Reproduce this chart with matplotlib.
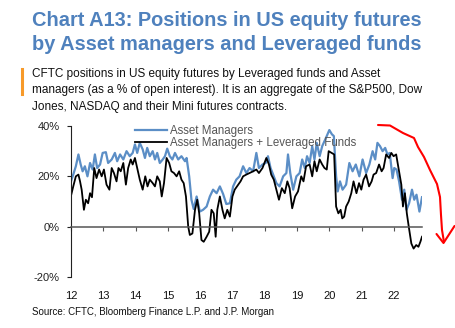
import matplotlib.pyplot as plt
from matplotlib.lines import Line2D

plt.rcParams['font.family'] = ['Liberation Sans', 'DejaVu Sans']

# weekly series read at ~monthly resolution, x in decimal years, y in % of OI
am_years = [2012.00, 2012.07, 2012.15, 2012.23, 2012.30, 2012.36, 2012.43, 2012.51, 2012.59, 2012.67,
            2012.74, 2012.81, 2012.90, 2012.98, 2013.08, 2013.15, 2013.26, 2013.36, 2013.43, 2013.52,
            2013.62, 2013.72, 2013.82, 2013.91, 2013.98, 2014.05, 2014.13, 2014.22, 2014.29, 2014.36,
            2014.44, 2014.53, 2014.60, 2014.67, 2014.75, 2014.84, 2014.91, 2014.98, 2015.06, 2015.14,
            2015.22, 2015.32, 2015.42, 2015.53, 2015.58, 2015.66, 2015.73, 2015.80, 2015.89, 2015.99,
            2016.09, 2016.20, 2016.30, 2016.40, 2016.51, 2016.61, 2016.71, 2016.81, 2016.92, 2017.02,
            2017.12, 2017.22, 2017.33, 2017.43, 2017.53, 2017.64, 2017.74, 2017.82, 2017.93, 2018.03,
            2018.10, 2018.18, 2018.26, 2018.36, 2018.46, 2018.57, 2018.67, 2018.72, 2018.79, 2018.88,
            2018.98, 2019.08, 2019.16, 2019.24, 2019.31, 2019.39, 2019.47, 2019.54, 2019.61, 2019.70,
            2019.78, 2019.85, 2019.92, 2020.00, 2020.08, 2020.14, 2020.21, 2020.26, 2020.33, 2020.41,
            2020.52, 2020.62, 2020.72, 2020.82, 2020.93, 2021.03, 2021.14, 2021.24, 2021.34, 2021.42,
            2021.49, 2021.57, 2021.65, 2021.73, 2021.80, 2021.87, 2021.96, 2022.01, 2022.08, 2022.16,
            2022.25, 2022.32, 2022.39, 2022.47, 2022.56, 2022.63, 2022.70, 2022.79, 2022.87]
am_values = [18, 20.7, 24, 28.7, 24.7, 22, 24, 20, 25.3, 22.7,
             28.7, 23.3, 24.7, 29.3, 29.6, 25.3, 26.7, 29.3, 26, 28.7,
             26.7, 30, 28, 29.3, 32.7, 29.3, 33.3, 30.7, 27.3, 31.3,
             28, 30, 26.7, 29.3, 25.3, 26.7, 28, 31, 28, 26.7,
             29.3, 26.7, 28, 26, 27.3, 20, 10.7, 7, 12, 6,
             6.7, 8, 12, 14.7, 13.3, 16, 13, 9, 9.3, 16,
             18.7, 20, 24, 21.3, 23.3, 22, 29.3, 23.3, 24.7, 25.3,
             28, 23.3, 20.7, 17.3, 16, 20, 21.3, 28.7, 21.3, 14.7,
             20, 21.3, 26.7, 23.3, 28, 25.3, 32, 26.7, 33.3, 28,
             32, 34, 36, 38.4, 36.7, 36, 20, 14, 18, 14.7,
             16.7, 25.3, 22, 24.7, 20, 26.7, 21.3, 24.7, 30, 26.7,
             33.3, 32, 30, 31.3, 28.7, 29.3, 19.3, 23.3, 22.7, 18,
             10.7, 14.7, 6.7, 9.3, 14.7, 10.7, 12.7, 6, 11.7]

lev_years = [2012.00, 2012.07, 2012.15, 2012.23, 2012.28, 2012.33, 2012.40, 2012.46, 2012.53, 2012.59,
             2012.65, 2012.72, 2012.79, 2012.87, 2012.95, 2013.02, 2013.10, 2013.19, 2013.26, 2013.33,
             2013.41, 2013.47, 2013.54, 2013.62, 2013.70, 2013.77, 2013.85, 2013.91, 2013.98, 2014.05,
             2014.13, 2014.22, 2014.30, 2014.37, 2014.44, 2014.53, 2014.60, 2014.67, 2014.75, 2014.81,
             2014.88, 2014.96, 2015.04, 2015.11, 2015.19, 2015.27, 2015.35, 2015.42, 2015.49, 2015.56,
             2015.63, 2015.68, 2015.76, 2015.84, 2015.91, 2015.97, 2016.04, 2016.11, 2016.20, 2016.28,
             2016.35, 2016.42, 2016.48, 2016.53, 2016.61, 2016.69, 2016.76, 2016.84, 2016.92, 2017.00,
             2017.07, 2017.18, 2017.25, 2017.33, 2017.43, 2017.53, 2017.64, 2017.74, 2017.82, 2017.93,
             2018.05, 2018.13, 2018.20, 2018.28, 2018.36, 2018.44, 2018.53, 2018.62, 2018.70, 2018.77,
             2018.85, 2018.94, 2019.03, 2019.13, 2019.20, 2019.28, 2019.39, 2019.47, 2019.54, 2019.61,
             2019.70, 2019.78, 2019.85, 2019.92, 2019.98, 2020.07, 2020.15, 2020.21, 2020.28, 2020.35,
             2020.40, 2020.46, 2020.52, 2020.60, 2020.68, 2020.75, 2020.84, 2020.92, 2020.99, 2021.06,
             2021.14, 2021.23, 2021.31, 2021.37, 2021.45, 2021.54, 2021.62, 2021.68, 2021.76, 2021.85,
             2021.92, 2021.99, 2022.07, 2022.15, 2022.23, 2022.28, 2022.34, 2022.40, 2022.46, 2022.54,
             2022.61, 2022.69, 2022.76, 2022.82, 2022.87]
lev_values = [12.3, 16, 20, 20.7, 18, 14.7, 6.7, 10.7, 9.3, 13.3,
              11.7, 23.3, 19.3, 22.7, 20, 22.7, 16.7, 14.7, 23.3, 21.3,
              18, 23.3, 22, 25.3, 16.7, 23.3, 26.7, 24.7, 27.3, 23.3,
              18.7, 14.7, 20, 16, 18.7, 17.3, 16, 20, 18, 12,
              17.3, 27.3, 25.3, 22, 21.3, 20, 22, 18.7, 17.3, 12,
              0, -3.3, -2.7, 6.7, 10.7, 5.3, -5.3, -6, -4, -2,
              6.7, 5.3, -4, 6.7, 12, 6.7, 3.3, 6.7, 4, 12,
              14.7, 16.7, 18, 20, 20.7, 21.3, 22, 22.7, 21.3, 23.3,
              27.3, 24.7, 20.7, 18.7, 14.7, 10.7, 15.3, 13.3, 18, 15.3,
              7.3, 12, 14, 20, 18, 24, 24.7, 20, 26, 22,
              26.7, 24.7, 23.3, 22.7, 30, 29.3, 28.7, 8, 5.3, 6.7,
              3.3, 4, 8, 10, 13.3, 18, 13.3, 17.3, 14.7, 18.7,
              20.7, 16, 18, 20.7, 21.3, 24.7, 22, 23.3, 28.7, 27.3,
              29.3, 28, 28.7, 22.7, 16.7, 8, 13.3, 5.3, -0, -6.7,
              -8.7, -7.3, -8, -6, -4]

year_ticks = [2012, 2013, 2014, 2015, 2016, 2017, 2018, 2019, 2020, 2021, 2022]
year_labels = ['12', '13', '14', '15', '16', '17', '18', '19', '20', '21', '22']
pct_ticks = [-20, 0, 20, 40]
pct_labels = ['-20%', '0%', '20%', '40%']

W, H = 455, 328
fig = plt.figure(figsize=(W / 100, H / 100), dpi=100)


def fx(px):
    return px / W


def fy(py):
    return 1 - py / H


title_col = '#4f81bd'
fig.text(fx(32), fy(26), 'Chart A13: Positions in US equity futures', color=title_col,
         fontsize=14.4, fontweight='bold', va='baseline')
fig.text(fx(32), fy(50), 'by Asset managers and Leveraged funds', color=title_col,
         fontsize=14.4, fontweight='bold', va='baseline')

sub_lines = ['CFTC positions in US equity futures by Leveraged funds and Asset',
             'managers (as a % of open interest). It is an aggregate of the S&P500, Dow',
             'Jones, NASDAQ and their Mini futures contracts.']
for i, s in enumerate(sub_lines):
    fig.text(fx(32), fy(76.5 + 16.7 * i), s, fontsize=8.5, color='#111111', va='baseline')
fig.add_artist(Line2D([fx(22), fx(22)], [fy(69), fy(94)], color='#f79a2a', lw=2.2))

fig.text(fx(32), fy(315), 'Source: CFTC, Bloomberg Finance L.P. and J.P. Morgan',
         fontsize=7.0, color='#111111', va='baseline')

ax = fig.add_axes([fx(71), fy(277), fx(422) - fx(71), fy(126) - fy(277)])
ax.set_facecolor('none')
am_line, = ax.plot(am_years, am_values, color='#5b8ec6', lw=1.6)
lev_line, = ax.plot(lev_years, lev_values, color='black', lw=1.3)

ax.set_xlim(2012, 2022.87)
ax.set_ylim(-20, 40)
ax.set_yticks(pct_ticks, pct_labels)
ax.set_xticks(year_ticks, year_labels)

for s in ['top', 'right']:
    ax.spines[s].set_visible(False)
ax.spines['bottom'].set_position(('data', 0))
ax.spines['bottom'].set_color('#555555')
ax.spines['bottom'].set_linewidth(1.1)
ax.spines['left'].set_color('#222222')
ax.tick_params(axis='y', direction='out', length=3, width=0.8, pad=5, labelsize=8, colors='#222222')
ax.tick_params(axis='x', direction='out', length=3, width=0.8, pad=43, labelsize=8,
               color='#555555', labelcolor='#111111')

ax.legend([am_line, lev_line], ['Asset Managers', 'Asset Managers + Leveraged Funds'],
          loc='upper left', bbox_to_anchor=((133 - 71) / 351 - 0.025, 1.075), frameon=False,
          fontsize=8.3, handlelength=2.8, handletextpad=0.3, labelspacing=0.0,
          labelcolor='#555555')

# hand-drawn red arrow
arrow_px = [(378, 125), (390, 125.5), (403, 133), (414, 138), (418, 147), (424, 157),
            (430, 170), (437, 184), (440, 197), (441, 215), (442, 230), (444, 242)]
fig.add_artist(Line2D([fx(p[0]) for p in arrow_px], [fy(p[1]) for p in arrow_px],
                      color='red', lw=1.5, solid_capstyle='round'))
head_px = [(436.5, 234), (443.5, 243), (454.5, 226)]
fig.add_artist(Line2D([fx(p[0]) for p in head_px], [fy(p[1]) for p in head_px],
                      color='red', lw=1.5, solid_capstyle='round'))

fig.savefig('out.png', dpi=100)
